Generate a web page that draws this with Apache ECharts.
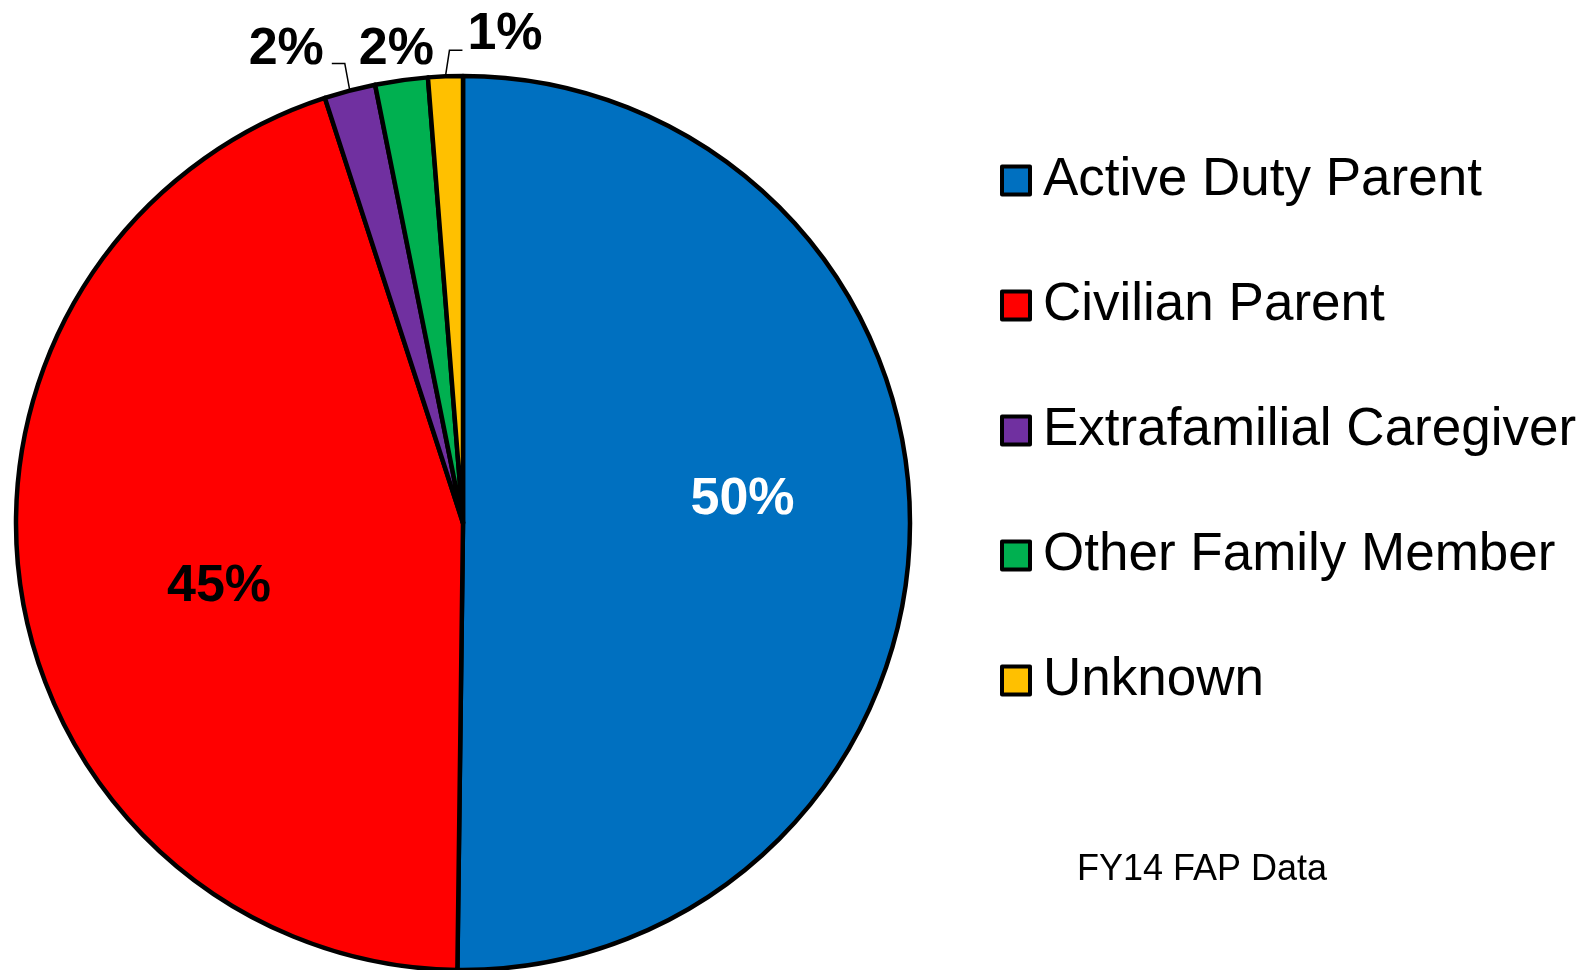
<!DOCTYPE html>
<html>
<head>
<meta charset="utf-8">
<script src="https://cdn.jsdelivr.net/npm/echarts@6/dist/echarts.min.js"></script>
<style>html,body{margin:0;padding:0;background:#fff}#c{width:1583px;height:970px}</style>
</head>
<body>
<div id="c"></div>
<script>
const categories = ['Active Duty Parent', 'Civilian Parent', 'Extrafamilial Caregiver', 'Other Family Member', 'Unknown'];
const values = [50.2, 44.8, 1.85, 1.9, 1.25];
const labels = ['50%', '45%', '2%', '2%', '1%'];
const colors = ['#0070C0', '#FF0000', '#7030A0', '#00B050', '#FFC000'];

const FONT = '"Liberation Sans", Arial, sans-serif';
const chart = echarts.init(document.getElementById('c'));
const data = categories.map((name, i) => {
  const d = { name, value: values[i], itemStyle: { color: colors[i] } };
  if (i < 2) {
    d.label = { position: 'inside', color: i === 0 ? '#fff' : '#000' };
  }
  if (i === 3) d.labelLine = { show: false };
  return d;
});
const insideShift = [[53, -25], [-20, 30]];
chart.setOption({
  animation: false,
  title: {
    text: 'FY14 FAP Data', left: 1072, top: 847,
    textStyle: { fontFamily: FONT, fontSize: 36, fontWeight: 'normal', color: '#000' }
  },
  legend: {
    orient: 'vertical', left: 995, top: 149,
    icon: 'rect', itemWidth: 28, itemHeight: 28, itemGap: 72,
    itemStyle: { borderColor: '#000', borderWidth: 4 },
    textStyle: { fontFamily: FONT, fontSize: 53, color: '#000', lineHeight: 53, padding: [0, 0, 0, 8] },
    data: categories
  },
  series: [{
    type: 'pie',
    center: [463, 523],
    radius: 447,
    startAngle: 90,
    clockwise: true,
    avoidLabelOverlap: false,
    itemStyle: { borderColor: '#000', borderWidth: 4.5 },
    label: {
      show: true, position: 'outside',
      formatter: p => labels[p.dataIndex],
      fontFamily: FONT, fontSize: 52, fontWeight: 'bold', color: '#000'
    },
    labelLine: { show: true, length: 12, length2: 10, lineStyle: { color: '#000', width: 1.5 } },
    labelLayout: p => {
      if (p.dataIndex < 2) return { dx: insideShift[p.dataIndex][0], dy: insideShift[p.dataIndex][1] };
      const pts = p.labelLinePoints;
      if (!pts) return {};
      const x0 = pts[0][0], y0 = pts[0][1];
      if (p.dataIndex === 2) {
        return {
          x: x0 - 26, y: y0 - 41, align: 'right', verticalAlign: 'middle',
          labelLinePoints: [[x0, y0], [x0 - 5, y0 - 27], [x0 - 18, y0 - 27]]
        };
      }
      if (p.dataIndex === 3) {
        return { x: x0 - 5, y: y0 - 31, align: 'center', verticalAlign: 'middle' };
      }
      return {
        x: x0 + 22, y: y0 - 42, align: 'left', verticalAlign: 'middle',
        labelLinePoints: [[x0, y0], [x0 + 4, y0 - 26], [x0 + 17, y0 - 26]]
      };
    },
    data
  }]
});
</script>
</body>
</html>
